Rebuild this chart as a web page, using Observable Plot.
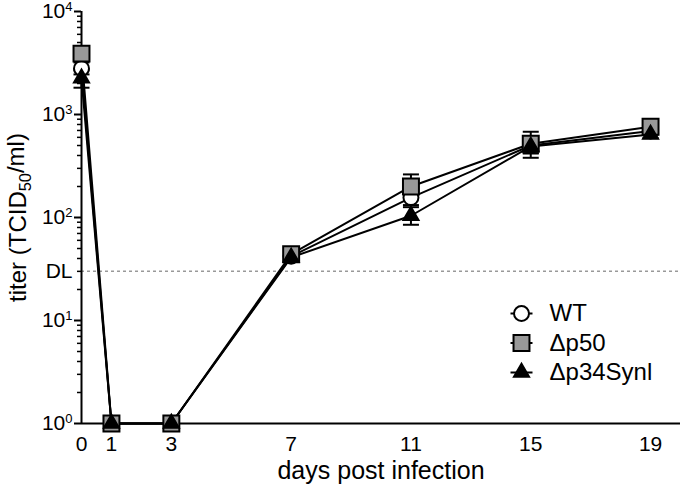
<!DOCTYPE html>
<html>
<head>
<meta charset="utf-8">
<script src="https://cdn.jsdelivr.net/npm/d3@7"></script>
<script src="https://cdn.jsdelivr.net/npm/@observablehq/plot@0.6"></script>
<style>
  html, body { margin: 0; padding: 0; background: #fff; }
</style>
</head>
<body>
<div id="chart"></div>
<script>
// ---- data ----
const days = [0, 1, 3, 7, 11, 15, 19];
const seriesNames = ["WT", "Δp50", "Δp34Synl"];
const wt    = [2800, 1, 1, 42, 156, 500, 690];
const wtLo  = [2450, 1, 1, 39, 132, 420, 640];
const wtHi  = [3200, 1, 1, 45, 185, 600, 745];
const p50   = [3900, 1, 1, 44, 200, 520, 760];
const p50Lo = [3400, 1, 1, 41, 160, 420, 700];
const p50Hi = [4600, 1, 1, 47, 262, 680, 820];
const p34   = [2250, 1, 1, 41, 104, 490, 640];
const p34Lo = [1820, 1, 1, 38, 85, 380, 590];
const p34Hi = [2700, 1, 1, 44, 126, 600, 690];
const detectionLimit = 30;
const yMajorTicks = [1, 10, 100, 1000, 10000];
const yMajorLabels = ["10^0", "10^1", "10^2", "10^3", "10^4"];
const xTicks = [0, 1, 3, 7, 11, 15, 19];

// ---- table built from arrays ----
const vals = [wt, p50, p34], los = [wtLo, p50Lo, p34Lo], his = [wtHi, p50Hi, p34Hi];
const rows = [];
seriesNames.forEach((s, i) => days.forEach((d, j) => rows.push({series: s, day: d, v: vals[i][j], lo: los[i][j], hi: his[i][j]})));
const errRows = rows.filter(r => r.hi > r.lo);

const yMinorTicks = [];
for (let e = 0; e < 4; e++) for (let k = 2; k <= 9; k++) yMinorTicks.push(k * Math.pow(10, e));

const capSym = {draw(ctx) { ctx.moveTo(-8, 0); ctx.lineTo(8, 0); }};
const legSym = {draw(ctx) { ctx.moveTo(-11, 0); ctx.lineTo(11, 0); }};

const style = {
  "WT": {symbol: "circle", r: 7.5, fill: "white"},
  "Δp50": {symbol: "square", r: 9, fill: "#999999"},
  "Δp34Synl": {symbol: "triangle", r: 5.6, fill: "black"}
};

const marks = [
  Plot.ruleY([detectionLimit], {stroke: "#999", strokeWidth: 1.5, strokeDasharray: "3,3"}),
  Plot.axisY({ticks: yMinorTicks, tickSize: 4, tickFormat: () => "", strokeWidth: 1.5, label: null}),
  Plot.axisY({ticks: yMajorTicks, tickSize: 7, tickFormat: () => "", strokeWidth: 2, label: null}),
  Plot.text(yMajorTicks, {y: d => d, frameAnchor: "left", dx: -9, textAnchor: "end", text: (d, i) => yMajorLabels[i], fontSize: 21}),
  Plot.text([detectionLimit], {y: d => d, frameAnchor: "left", dx: -9, textAnchor: "end", text: () => "DL", fontSize: 21}),
  Plot.axisX({ticks: xTicks, tickSize: 0, tickPadding: 13, fontSize: 21, label: null}),
  Plot.ruleX([0], {strokeWidth: 2}),
  Plot.ruleY([1], {strokeWidth: 2}),
  Plot.text(["titer (TCID50/ml)"], {frameAnchor: "left", dx: -63, rotate: -90, textAnchor: "middle", lineAnchor: "middle", fontSize: 24}),
  Plot.text(["days post infection"], {frameAnchor: "bottom", dy: 47, lineAnchor: "middle", fontSize: 25}),
  Plot.line(rows, {x: "day", y: "v", z: "series", stroke: "black", strokeWidth: 2}),
  Plot.ruleX(errRows, {x: "day", y1: "lo", y2: "hi", stroke: "black", strokeWidth: 2}),
  Plot.dot(errRows, {x: "day", y: "lo", symbol: capSym, stroke: "black", strokeWidth: 2, fill: "none"}),
  Plot.dot(errRows, {x: "day", y: "hi", symbol: capSym, stroke: "black", strokeWidth: 2, fill: "none"})
];
seriesNames.forEach(s => {
  const st = style[s];
  marks.push(Plot.dot(rows.filter(r => r.series === s), {x: "day", y: "v", symbol: st.symbol, r: st.r, fill: st.fill, stroke: "black", strokeWidth: 2}));
});
// legend
seriesNames.forEach((s, i) => {
  const st = style[s];
  const dy = 302 + i * 29.5;
  marks.push(Plot.dot([s], {frameAnchor: "top-left", dx: 440, dy, symbol: legSym, stroke: "black", strokeWidth: 2, fill: "none"}));
  marks.push(Plot.dot([s], {frameAnchor: "top-left", dx: 440, dy, symbol: st.symbol, r: st.r, fill: st.fill, stroke: "black", strokeWidth: 2}));
  marks.push(Plot.text([s], {frameAnchor: "top-left", dx: 468, dy, text: d => d, textAnchor: "start", lineAnchor: "middle", fontSize: 24}));
});

const svg = Plot.plot({
  width: 680,
  height: 490,
  marginLeft: 81,
  marginRight: 0,
  marginTop: 11,
  marginBottom: 67,
  style: {fontFamily: "'Liberation Sans', Arial, sans-serif", background: "white", color: "black"},
  x: {domain: [0, 20]},
  y: {type: "log", domain: [1, 10000]},
  marks
});

// superscripts for 10^k labels, subscript for TCID50
d3.select(svg).selectAll("text").each(function() {
  const sel = d3.select(this);
  const t = this.textContent;
  const m = t.match(/^10\^(\d)$/);
  if (m) {
    sel.text("10");
    sel.append("tspan").attr("dy", "-0.55em").attr("font-size", "0.62em").text(m[1]);
  } else if (t === "titer (TCID50/ml)") {
    sel.text("titer (TCID");
    sel.append("tspan").attr("dy", "0.3em").attr("font-size", "0.68em").text("50");
    sel.append("tspan").attr("dy", "-0.3em").text("/ml)");
  }
});

document.getElementById("chart").appendChild(svg);
</script>
</body>
</html>
